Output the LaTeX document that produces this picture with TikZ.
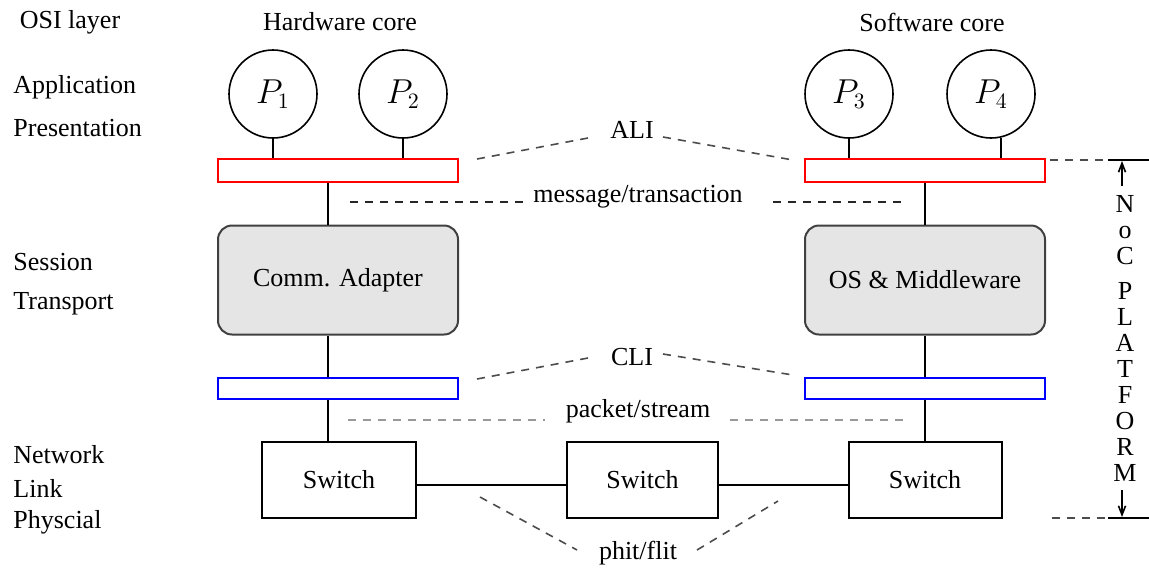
\documentclass[tikz,border=0pt]{standalone}
\usepackage[no-math]{fontspec}
\setmainfont{Liberation Serif}
\usetikzlibrary{arrows.meta}
\begin{document}
\begin{tikzpicture}[x=0.5pt,y=-0.5pt,
  every node/.style={font=\fontsize{13}{13}\selectfont},
  lbl/.style={anchor=west,inner sep=0pt},
  proc/.style={draw,circle,line width=0.8pt,minimum size=44pt,inner sep=0pt,
    font=\fontsize{16}{16}\selectfont},
  alibar/.style={draw=red,line width=1pt,minimum width=120pt,minimum height=11.5pt,inner sep=0pt},
  clibar/.style={draw=blue,line width=1pt,minimum width=120pt,minimum height=10.5pt,inner sep=0pt},
  layerbox/.style={draw=black!75,fill=black!10,line width=1pt,rounded corners=7pt,
    minimum width=120pt,minimum height=54.5pt,inner sep=0pt},
  switchbox/.style={draw,line width=1pt,minimum height=38pt,inner sep=0pt},
  link/.style={line width=1pt},
  hint/.style={dashed,dash pattern=on 4pt off 3.5pt,line width=0.8pt,black!70},
  softhint/.style={dashed,dash pattern=on 4pt off 3.5pt,line width=0.8pt,black!40},
  span/.style={line width=0.8pt,-{Straight Barb[length=4.5pt,width=3.5pt]}}]
\useasboundingbox (0,0) rectangle (1149,569);

% column headings and OSI layer names
\node (hosi) at (70,22) {OSI layer};
\node (hhw) at (340,22) {Hardware core};
\node (hsw) at (932,22) {Software core};
\node[lbl] (lapp) at (13,87) {Application};
\node[lbl] (lpre) at (13,128) {Presentation};
\node[lbl] (lses) at (13,262) {Session};
\node[lbl] (ltra) at (13,304) {Transport};
\node[lbl] (lnet) at (13,455) {Network};
\node[lbl] (llnk) at (13,488) {Link};
\node[lbl] (lphy) at (13,522) {Physcial};

% processes
\node[proc] (p1) at (273,94) {$P_1$};
\node[proc] (p2) at (403,94) {$P_2$};
\node[proc] (p3) at (849,94) {$P_3$};
\node[proc] (p4) at (991,94) {$P_4$};

% interface bars and adapter layers
\node[alibar] (ali1) at (338,170.5) {};
\node[alibar] (ali2) at (925,170.5) {};
\node[layerbox] (ca) at (338,280) {Comm. Adapter};
\node[layerbox] (os) at (925,280) {OS \& Middleware};
\node[clibar] (cli1) at (338,388) {};
\node[clibar] (cli2) at (925,388) {};

% switches
\node[switchbox,minimum width=77pt] (sw1) at (339,480) {Switch};
\node[switchbox,minimum width=75.5pt] (sw2) at (642.5,480) {Switch};
\node[switchbox,minimum width=76.5pt] (sw3) at (925,480) {Switch};

% vertical connections
\coordinate (hx) at (328,0);
\coordinate (lk) at (0,485);
\draw[link] (p1.south) -- (p1.south |- ali1.north);
\draw[link] (p2.south) -- (p2.south |- ali1.north);
\draw[link] (p3.south) -- (p3.south |- ali2.north);
\draw[link] (p4.-77) -- (p4.-77 |- ali2.north);
\draw[link] (hx |- ali1.south) -- (hx |- ca.north);
\draw[link] (hx |- ca.south) -- (hx |- cli1.north);
\draw[link] (hx |- cli1.south) -- (hx |- sw1.north);
\draw[link] (ali2.south) -- (os.north);
\draw[link] (os.south) -- (cli2.north);
\draw[link] (cli2.south) -- (sw3.north);
\draw[link] (sw1.east |- lk) -- (sw2.west |- lk);
\draw[link] (sw2.east |- lk) -- (sw3.west |- lk);

% interface labels with their dashed pointers
\node (tali) at (632,130) {ALI};
\coordinate (ali1e) at (477,159);
\coordinate (ali1t) at (588,138);
\coordinate (ali2t) at (663,137);
\coordinate (ali2e) at (793,160);
\draw[hint] (ali1e) -- (ali1t);
\draw[hint] (ali2t) -- (ali2e);

\node (tmsg) at (638,197) {message/transaction};
\coordinate (msg1a) at (350,202);
\coordinate (msg1b) at (527,202);
\coordinate (msg2a) at (773,202);
\coordinate (msg2b) at (905,202);
\draw[hint,black!85] (msg1a) -- (msg1b);
\draw[hint,black!85] (msg2a) -- (msg2b);

\node (tcli) at (632,357) {CLI};
\coordinate (cli1e) at (477,379);
\coordinate (cli1t) at (588,358);
\coordinate (cli2t) at (663,354);
\coordinate (cli2e) at (793,375);
\draw[hint] (cli1e) -- (cli1t);
\draw[hint] (cli2t) -- (cli2e);

\node (tpkt) at (638,411) {packet/stream};
\coordinate (pkt1a) at (348,420);
\coordinate (pkt1b) at (545,420);
\coordinate (pkt2a) at (730,420);
\coordinate (pkt2b) at (905,420);
\draw[softhint] (pkt1a) -- (pkt1b);
\draw[softhint] (pkt2a) -- (pkt2b);

\node (tphit) at (638,553) {phit/flit};
\coordinate (ph1a) at (480,497);
\coordinate (ph1b) at (577,550);
\coordinate (ph2a) at (697,550);
\coordinate (ph2b) at (778,501);
\draw[hint] (ph1a) -- (ph1b);
\draw[hint] (ph2a) -- (ph2b);

% NoC platform extent
\coordinate (ptop0) at (1050,160);
\coordinate (ptop1) at (1108,160);
\coordinate (ptop2) at (1149,160);
\coordinate (pbot0) at (1052,518);
\coordinate (pbot1) at (1108,518);
\coordinate (pbot2) at (1149,518);
\draw[hint] (ptop0) -- (ptop1);
\draw[line width=0.8pt] (ptop1) -- (ptop2);
\draw[hint] (pbot0) -- (pbot1);
\draw[line width=0.8pt] (pbot1) -- (pbot2);
\node[align=center,inner sep=0pt,font=\fontsize{13}{13}\selectfont] (plat) at (1125,338)
  {N\\o\\C\\[4.5pt]P\\L\\A\\T\\F\\O\\R\\M};
\coordinate (arrt) at (1122,161);
\coordinate (arrb) at (1122,517);
\draw[span] (1122,186) -- (arrt);
\draw[span] (1122,490) -- (arrb);
\end{tikzpicture}
\end{document}
